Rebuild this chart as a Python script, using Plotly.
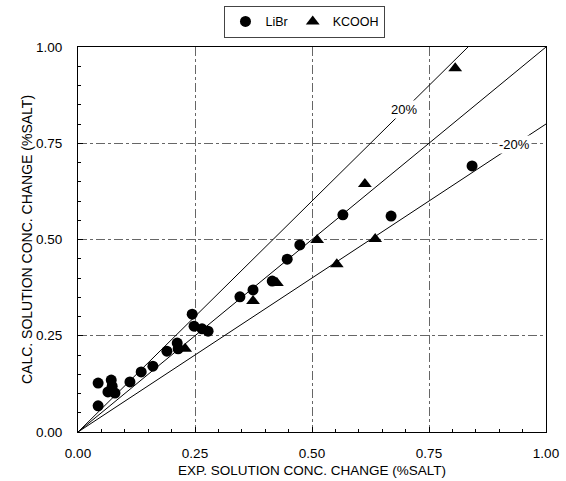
import plotly.graph_objects as go

# Data
libr_x = [0.043, 0.043, 0.071, 0.064, 0.079, 0.073, 0.111, 0.135, 0.160, 0.190,
          0.212, 0.214, 0.244, 0.248, 0.265, 0.278, 0.346, 0.374, 0.415, 0.447,
          0.474, 0.566, 0.669, 0.842]
libr_y = [0.127, 0.068, 0.135, 0.104, 0.101, 0.119, 0.130, 0.156, 0.171, 0.210,
          0.231, 0.216, 0.306, 0.275, 0.268, 0.262, 0.351, 0.369, 0.392, 0.449,
          0.486, 0.564, 0.561, 0.691]
kcooh_x = [0.229, 0.374, 0.425, 0.511, 0.553, 0.635, 0.613, 0.806]
kcooh_y = [0.216, 0.340, 0.387, 0.499, 0.436, 0.501, 0.644, 0.945]

ref_x = [0.0, 1.0]
ratio_plus = 1.2
ratio_one = 1.0
ratio_minus = 0.8
label_plus = "20%"
label_minus = "-20%"
label_plus_x = 0.697
label_minus_x = 0.932

xtitle = "EXP. SOLUTION CONC. CHANGE (%SALT)"
ytitle = "CALC. SOLUTION CONC. CHANGE (%SALT)"

font_family = "Liberation Sans, Arial, sans-serif"

fig = go.Figure()

for r in [ratio_plus, ratio_one, ratio_minus]:
    fig.add_trace(go.Scatter(
        x=ref_x, y=[r * v for v in ref_x], mode="lines",
        line=dict(color="black", width=1), showlegend=False, hoverinfo="skip"))

fig.add_trace(go.Scatter(
    x=libr_x, y=libr_y, mode="markers", name="LiBr",
    marker=dict(symbol="circle", size=11, color="black")))
fig.add_trace(go.Scatter(
    x=kcooh_x, y=kcooh_y, mode="markers", name="KCOOH",
    marker=dict(symbol="triangle-up", size=12, color="black")))

fig.add_annotation(x=label_plus_x, y=ratio_plus * label_plus_x, text=label_plus,
                   showarrow=False, bgcolor="white",
                   font=dict(size=13, color="black", family=font_family))
fig.add_annotation(x=label_minus_x, y=ratio_minus * label_minus_x, text=label_minus,
                   showarrow=False, bgcolor="white",
                   font=dict(size=13, color="black", family=font_family))

axis_common = dict(
    range=[0, 1], dtick=0.25, tick0=0, tickformat=".2f",
    showline=True, linecolor="black", linewidth=1, mirror=True,
    ticks="inside", ticklen=5, tickcolor="black",
    minor=dict(dtick=0.05, ticks="inside", ticklen=3, tickcolor="black", showgrid=False),
    showgrid=True, gridcolor="#666666", gridwidth=1, griddash="dashdot",
    zeroline=False, automargin=False,
    tickfont=dict(size=13.5, color="black", family=font_family),
)

fig.update_xaxes(**axis_common, ticklabelstandoff=9,
                 title=dict(text=xtitle, font=dict(size=13.5, color="black", family=font_family),
                            standoff=5))
fig.update_yaxes(**axis_common, ticklabelstandoff=12,
                 title=dict(text=ytitle, font=dict(size=14, color="black", family=font_family),
                            standoff=0))

fig.update_layout(
    width=566, height=481,
    margin=dict(l=78, r=20, t=47, b=49, autoexpand=False),
    paper_bgcolor="white", plot_bgcolor="white",
    font=dict(family=font_family, color="black"),
    showlegend=True,
    legend=dict(orientation="h", x=0.485, xanchor="center",
                yref="container", y=0.988, yanchor="top",
                bordercolor="#444444", borderwidth=1, bgcolor="white",
                font=dict(size=12.5, color="black", family=font_family),
                itemwidth=30, tracegroupgap=0),
)

fig.write_html("out.html")
